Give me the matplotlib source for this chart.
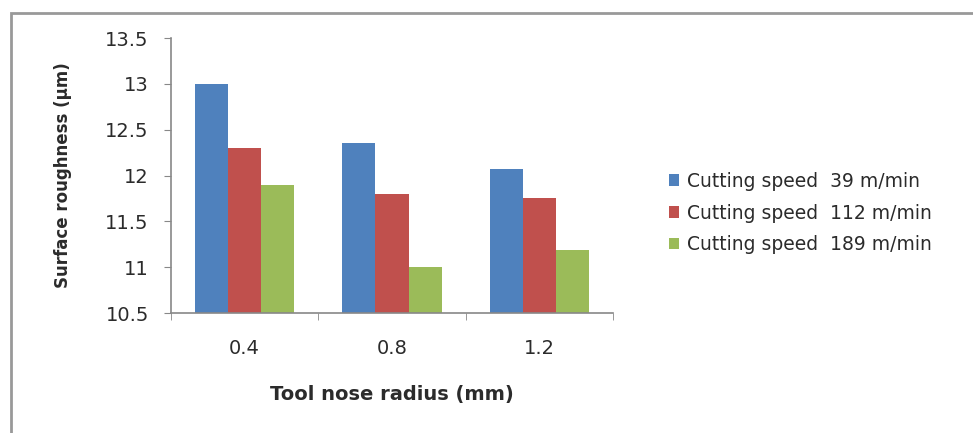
import numpy as np
import matplotlib
matplotlib.use("Agg")
from matplotlib import pyplot as plt
from matplotlib.patches import Rectangle

radius_labels = ["0.4", "0.8", "1.2"]
series_names = ["Cutting speed  39 m/min", "Cutting speed  112 m/min", "Cutting speed  189 m/min"]
speed_39 = [13.0, 12.35, 12.07]
speed_112 = [12.3, 11.8, 11.76]
speed_189 = [11.9, 11.0, 11.19]
y_ticks = [10.5, 11, 11.5, 12, 12.5, 13, 13.5]

colors = ["#4F81BD", "#C0504D", "#9BBB59"]
axis_grey = "#888888"
text_col = "#2b2b2b"

plt.rcParams["font.family"] = ["DejaVu Sans"]

fig = plt.figure(figsize=[9.73, 4.33], dpi=100)
ax = fig.add_axes([171 / 973, 1 - 313 / 433, (613 - 171) / 973, (313 - 38) / 433])

x = np.arange(len(radius_labels))
width = 0.225
for i, (vals, name) in enumerate(zip([speed_39, speed_112, speed_189], series_names)):
    ax.bar(x + (i - 1) * width, np.array(vals) - 10.5, width, bottom=10.5,
           color=colors[i], label=name)

ax.set_xlim(-0.5, 2.5)
ax.set_ylim(10.5, 13.5)
ax.set_yticks(y_ticks)
ax.set_yticklabels(["%g" % v for v in y_ticks], fontsize=14, color=text_col)
ax.set_xticks(x)
ax.set_xticklabels(radius_labels, fontsize=14, color=text_col)
ax.tick_params(axis="x", length=0, pad=19)
ax.tick_params(axis="y", length=5, color=axis_grey, pad=11)
# category boundary ticks on the x axis
ax.set_xticks([-0.5, 0.5, 1.5, 2.5], minor=True)
ax.tick_params(axis="x", which="minor", length=5, color=axis_grey, direction="out")

for side in ["top", "right"]:
    ax.spines[side].set_visible(False)
for side in ["left", "bottom"]:
    ax.spines[side].set_color(axis_grey)
    ax.spines[side].set_linewidth(1.2)

ax.set_xlabel("Tool nose radius (mm)", fontsize=14, fontweight="bold", labelpad=19, color=text_col)
ax.set_ylabel("Surface roughness (\u00b5m)", fontsize=12, fontweight="bold", labelpad=24, color=text_col)

ax.legend(loc="center left", bbox_to_anchor=(652 / 973, 1 - 213 / 433), bbox_transform=fig.transFigure,
          frameon=False, fontsize=13.5, handlelength=0.55, handleheight=0.55, handletextpad=0.4,
          labelspacing=0.68, labelcolor=text_col)

# outer chart border
fig.patches.append(Rectangle((11 / 973, -0.05), 1.0, 1 - 13 / 433 + 0.05, transform=fig.transFigure,
                             fill=False, edgecolor="#999999", linewidth=2))

fig.savefig("out.png", dpi=100)
plt.close()
